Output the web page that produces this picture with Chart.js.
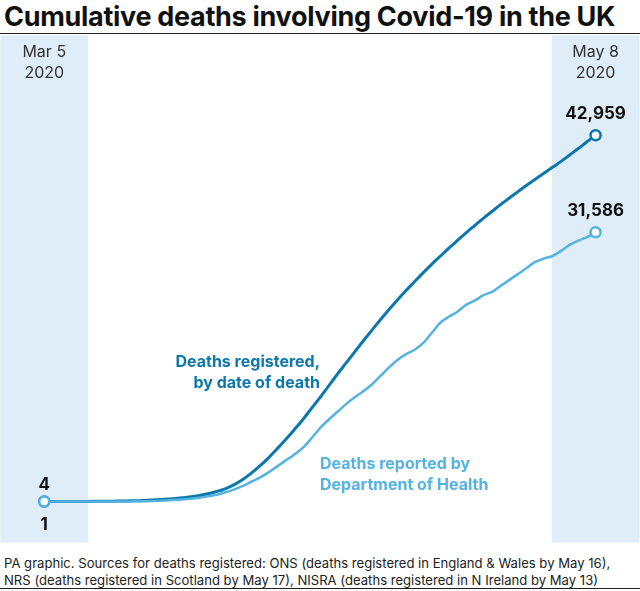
<!DOCTYPE html>
<html>
<head>
<meta charset="utf-8">
<script src="https://cdn.jsdelivr.net/npm/chart.js@4"></script>
<style>
  body { margin: 0; width: 640px; height: 591px; background: #fff; font-family: "Inter", "Liberation Sans", sans-serif; position: relative; overflow: hidden; }
  #title { position: absolute; left: 4px; top: 0px; font-size: 27px; font-weight: 700; color: #111; letter-spacing: -0.3px; white-space: nowrap; }
  .rule { position: absolute; left: 0; width: 640px; height: 1px; background: #222; }
  #wrap { position: absolute; left: -7px; top: 28px; width: 654px; height: 522px; }
  #foot { position: absolute; left: 4px; top: 555px; font-size: 13.1px; line-height: 17px; color: #222; white-space: nowrap; }
</style>
</head>
<body>
<div id="title">Cumulative deaths involving Covid-19 in the UK</div>
<div class="rule" style="top:33px"></div>
<div id="wrap"><canvas id="c"></canvas></div>
<div id="foot">PA graphic. Sources for deaths registered: ONS (deaths registered in England &amp; Wales by May 16),<br>NRS (deaths registered in Scotland by May 17), NISRA (deaths registered in N Ireland by May 13)</div>
<div class="rule" style="top:588px"></div>
<script>
// day 0 = Mar 5 2020, day 64 = May 8 2020
const days = Array.from({ length: 65 }, (_, i) => i);
const registered = [4,5,7,10,15,20,28,38,50,65,85,110,150,200,260,340,440,560,720,920,
  1180,1500,1950,2550,3300,4150,5100,6150,7250,8400,9600,10900,12200,13550,14900,16200,
  17500,18800,20050,21300,22500,23650,24750,25800,26850,27850,28800,29750,30650,31550,
  32400,33250,34050,34850,35600,36350,37100,37800,38500,39200,39900,40650,41400,42200,42959];
const reported = [1,1,2,2,3,5,6,8,10,12,20,30,50,80,120,170,240,330,450,620,
  800,1080,1400,1800,2300,2800,3400,4100,4800,5500,6300,7400,8600,9600,10500,11400,
  12200,12900,13700,14700,15700,16600,17300,17800,18600,19800,21000,21700,22300,23100,
  23600,24200,24600,25300,26000,26700,27400,28100,28500,28800,29400,30100,30600,31000,31586];
const startLabel = ["Mar 5", "2020"];
const endLabel = ["May 8", "2020"];

const DARK = "#0b77ad", LIGHT = "#54b3e0", BAND = "#dfedf8";

const overlay = {
  id: "overlay",
  beforeDatasetsDraw(chart) {
    const { ctx, scales: { x }, chartArea: a } = chart;
    ctx.save();
    ctx.fillStyle = BAND;
    const w = x.getPixelForValue(5.1) - x.getPixelForValue(0);
    [0, 64].forEach(d => {
      const c = x.getPixelForValue(d);
      ctx.fillRect(c - w, a.top, 2 * w, a.bottom - a.top);
    });
    ctx.fillStyle = "#333";
    ctx.font = "16px Inter, sans-serif";
    ctx.textAlign = "center";
    [[0, startLabel], [64, endLabel]].forEach(([d, lab]) => {
      const c = x.getPixelForValue(d);
      ctx.fillText(lab[0], c, a.top + 21);
      ctx.fillText(lab[1], c, a.top + 42);
    });
    ctx.restore();
  },
  afterDatasetsDraw(chart) {
    const { ctx, scales: { x, y } } = chart;
    ctx.save();
    ctx.textAlign = "center";
    ctx.fillStyle = "#111";
    ctx.font = "bold 17px Inter, sans-serif";
    const last = 64;
    ctx.fillText(registered[last].toLocaleString("en-GB"), x.getPixelForValue(last), y.getPixelForValue(registered[last]) - 16);
    ctx.fillText(reported[last].toLocaleString("en-GB"), x.getPixelForValue(last), y.getPixelForValue(reported[last]) - 16);
    ctx.fillText(String(registered[0]), x.getPixelForValue(0), y.getPixelForValue(0) - 12);
    ctx.fillText(String(reported[0]), x.getPixelForValue(0), y.getPixelForValue(0) + 28);
    ctx.font = "bold 16px Inter, sans-serif";
    ctx.textAlign = "right";
    ctx.fillStyle = DARK;
    ctx.fillText("Deaths registered,", 327, 339);
    ctx.fillText("by date of death", 327, 360);
    ctx.textAlign = "left";
    ctx.fillStyle = LIGHT;
    ctx.fillText("Deaths reported by", 327, 441);
    ctx.fillText("Department of Health", 327, 462);
    ctx.restore();
  }
};

const endPt = (ctx) => (ctx.dataIndex === 0 || ctx.dataIndex === 64) ? 5 : 0;

new Chart(document.getElementById("c"), {
  type: "line",
  data: {
    datasets: [
      { data: reported.map((v, i) => ({ x: days[i], y: v })), borderColor: LIGHT, borderWidth: 2.5,
        pointRadius: endPt, pointBackgroundColor: "#fff", pointBorderColor: LIGHT, pointBorderWidth: 2.5, tension: 0.3 },
      { data: registered.map((v, i) => ({ x: days[i], y: v })), borderColor: DARK, borderWidth: 3,
        pointRadius: endPt, pointBackgroundColor: "#fff", pointBorderColor: DARK, pointBorderWidth: 2.5, tension: 0.4 }
    ]
  },
  options: {
    responsive: true,
    maintainAspectRatio: false,
    animation: false,
    layout: { padding: 0 },
    plugins: { legend: { display: false }, tooltip: { enabled: false } },
    scales: {
      x: { type: "linear", min: -5.08, max: 69.1, display: false },
      y: { min: -4800, max: 54660, display: false }
    }
  },
  plugins: [overlay]
});
</script>
</body>
</html>
